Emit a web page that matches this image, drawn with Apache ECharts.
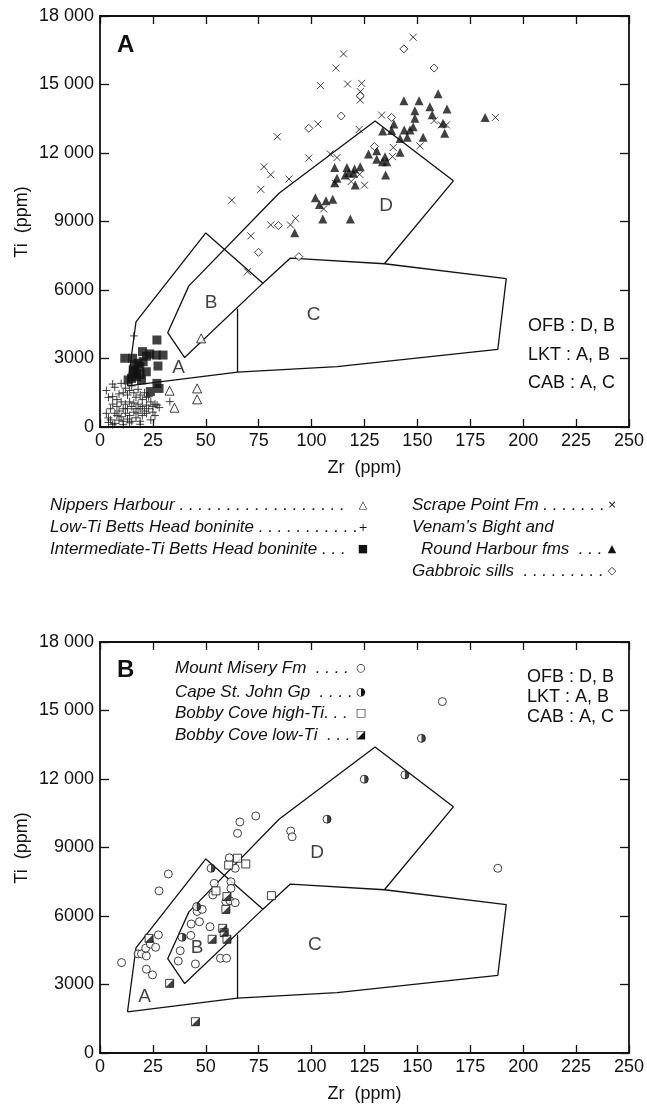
<!DOCTYPE html>
<html>
<head>
<meta charset="utf-8">
<script src="https://cdn.jsdelivr.net/npm/echarts@6/dist/echarts.min.js"></script>
<style>
  html, body { margin: 0; padding: 0; background: #fff; }
  #main { width: 647px; height: 1110px; }
</style>
</head>
<body>
<div id="main"></div>
<script>
/**
 * DATA  (Zr ppm, Ti ppm)
 */
// panel A
var nippersA = [[47.8, 3880], [32.9, 1590], [45.9, 1690], [45.9, 1210], [35.2, 845]];
var lowTiA = [
    [3, 1600], [6, 1880], [7, 1740], [10, 1910], [4, 1300], [6, 1330], [8, 1200], [9, 1450], [11, 1500],
    [12, 1700], [13, 1400], [14, 1600], [15, 1800], [16, 1500], [17, 1300], [18, 1650], [19, 1400],
    [20, 1200], [21, 1500], [22, 1300], [23, 1330], [22, 960], [24, 1100], [25, 900], [26, 1000],
    [27, 960], [24, 310], [33, 1110], [16, 3990], [3, 600], [4, 400], [5, 310], [7, 160], [5, 800],
    [6, 1000], [7, 600], [8, 900], [8, 500], [9, 300], [9, 700], [10, 1100], [10, 450], [11, 800],
    [11, 250], [12, 600], [12, 1000], [13, 350], [13, 800], [14, 500], [14, 1100], [15, 250], [15, 900],
    [16, 650], [16, 1050], [17, 400], [17, 800], [18, 1000], [18, 600], [19, 250], [19, 800], [20, 500],
    [20, 900], [21, 700], [22, 600], [23, 800], [25, 650], [26, 500], [4, 200], [6, 100], [11, 100],
    [14, 180], [19, 120], [28, 850]
];
var interTiA = [
    [26.9, 3810], [11.7, 3010], [15.4, 3010], [20.1, 3300], [23.5, 3200], [26.6, 3150], [29.8, 3150],
    [27.4, 2670], [16.4, 2720], [18.8, 2640], [21.9, 2420], [14.9, 2130], [17.2, 2200], [19.6, 2060],
    [26.9, 1910], [27.9, 1690], [23.8, 1550], [15.7, 2500], [18, 2790], [13.3, 2060], [20.4, 2860],
    [17.2, 2350], [22, 3100], [16, 2400], [19, 2300]
];
var scrapeA = [
    [62.3, 9930], [76, 10410], [77.5, 11400], [80.7, 11050], [83.8, 12710], [89.3, 10860], [98.7, 11780],
    [103, 13270], [104.2, 14950], [80.7, 8850], [90, 8850], [92.4, 9140], [105.7, 9550], [148, 17070],
    [115.1, 16340], [111.5, 15720], [117, 15020], [123.7, 15050], [123, 14690], [123, 14320],
    [133.1, 13660], [122.5, 13030], [108.8, 11960], [112, 11800], [122.7, 11070], [125, 10590],
    [118.7, 10750], [111.2, 10670], [138.6, 12240], [138.2, 11840], [151.2, 12310], [157.9, 13420],
    [161.3, 13230], [163.7, 13230], [186.9, 13560], [71.3, 8370], [69.7, 6800]
];
var venamA = [
    [143.6, 14290], [150.8, 14290], [159.8, 14590], [164, 13930], [155.9, 14030], [157, 13670],
    [148.8, 13850], [148.8, 13520], [148, 13150], [138.9, 13270], [133.6, 12960], [137.8, 12980],
    [143.8, 13010], [146.5, 13010], [141.8, 12640], [145.2, 12690], [152.7, 12690], [162.9, 12860],
    [162.1, 13300], [141.8, 12030], [126.9, 11960], [130.8, 12100], [130.8, 11730], [133.5, 11620],
    [135.5, 11620], [134.7, 11840], [135, 11040], [110.9, 11370], [116.7, 11370], [120.3, 11300],
    [123, 11400], [117.5, 11140], [119.8, 11110], [115.9, 11040], [112, 10890], [120.6, 10600],
    [110.9, 10700], [101.8, 10040], [103.7, 9750], [106.8, 9910], [110, 9970], [118.3, 9110],
    [105.3, 9110], [182, 13560], [92, 8510]
];
var gabbroA = [
    [143.6, 16560], [157.9, 15720], [123, 14500], [114, 13620], [98.7, 13080], [137.8, 13560],
    [129.7, 12280], [84.3, 8820], [74.9, 7650], [94, 7460]
];

// panel B
var miseryB = [
    [10.2, 3960], [18, 4340], [19.6, 4340], [21.9, 4250], [21.6, 4590], [23.8, 4770], [26.3, 4630],
    [27.6, 5170], [21.9, 3670], [24.8, 3420], [27.9, 7100], [32.3, 7840], [37.9, 4480], [37, 4030],
    [43.1, 5650], [42.9, 5150], [47, 5750], [45.9, 6200], [48.3, 6290], [45.1, 3900], [52, 5530],
    [54, 7430], [53.3, 6920], [56.9, 4150], [59.8, 4150], [61.1, 8550], [63.9, 8090], [61.9, 7500],
    [61.9, 7210], [59.5, 6630], [61.4, 6670], [63.9, 6580], [65, 9620], [66.1, 10120], [73.6, 10380],
    [90.1, 9720], [90.8, 9470], [161.8, 15390], [188, 8090]
];
var capeB = [[151.9, 13780], [124.9, 11990], [144.1, 12180], [107.3, 10240], [52.5, 8090], [45.7, 6410], [38.8, 5070]];
var bobbyHighB = [[60.8, 8230], [65, 8530], [68.9, 8280], [54.8, 7100], [81, 6890]];
var bobbyLowB = [
    [23.2, 5020], [32.9, 3050], [45.1, 1370], [53, 4980], [58, 5460], [58.7, 5270], [60, 4980],
    [59.5, 6290], [60, 6850]
];

// discrimination field boundaries (same on both panels)
var fieldOuter = [[13, 1800], [17, 4600], [50, 8500], [77, 6300]];
var fieldMain = [
    [13, 1800], [65, 2400], [112, 2640], [188, 3400], [192, 6500], [134.4, 7150], [90, 7400],
    [77, 6300], [40, 3040], [32, 4130], [42, 6180], [84.6, 10240], [130, 13400], [167, 10780], [134.4, 7150]
];
var fieldDivide = [[65, 2400], [65, 5180]];
var fieldNames = ['A', 'B', 'C', 'D'];
var fieldPosA = [[37.1, 2580], [52.5, 5420], [101, 4900], [135.2, 9680]];
var fieldPosB = [[21.1, 2470], [45.9, 4590], [101.5, 4730], [102.6, 8770]];

var xTicks = [0, 250, 25];
var yTicks = [0, 18000, 3000];

/**
 * CHART
 */
var FONT = '"Liberation Sans", Arial, Helvetica, sans-serif';
var INK = '#111';

function fmtTi(v) {
    var s = String(v);
    return v >= 10000 ? s.slice(0, s.length - 3) + ' ' + s.slice(-3) : s;
}

function xAxis(gi, pos, showLabel) {
    return {
        type: 'value', gridIndex: gi, position: pos,
        min: xTicks[0], max: xTicks[1], interval: xTicks[2],
        axisLine: {show: true, onZero: false, lineStyle: {color: INK, width: 1.8}},
        axisTick: {show: true, inside: true, length: 8, lineStyle: {color: INK, width: 1.3}},
        axisLabel: {show: showLabel, color: INK, fontSize: 18, fontFamily: FONT, margin: 5},
        splitLine: {show: false},
        name: showLabel ? 'Zr  (ppm)' : '',
        nameLocation: 'middle', nameGap: 32,
        nameTextStyle: {color: INK, fontSize: 18, fontFamily: FONT}
    };
}

function yAxis(gi, pos, showLabel) {
    return {
        type: 'value', gridIndex: gi, position: pos,
        min: yTicks[0], max: yTicks[1], interval: yTicks[2],
        axisLine: {show: true, onZero: false, lineStyle: {color: INK, width: 1.8}},
        axisTick: {show: true, inside: true, length: 9, lineStyle: {color: INK, width: 1.3}},
        axisLabel: {show: showLabel, color: INK, fontSize: 18, fontFamily: FONT, margin: 6, formatter: fmtTi},
        splitLine: {show: false}
    };
}

var openStyle = {color: '#fff', borderColor: INK, borderWidth: 1};
var lineSym = {color: 'rgba(0,0,0,0)', borderColor: INK, borderWidth: 1};
var fillStyle = {color: INK};

function pts(panel, data, symbol, size, style, extra) {
    var s = {
        type: 'scatter', xAxisIndex: panel * 2, yAxisIndex: panel * 2,
        data: data, symbol: symbol, symbolSize: size, itemStyle: style,
        silent: true, z: 3
    };
    for (var k in extra || {}) s[k] = extra[k];
    return s;
}

function boundaries(panel) {
    return [fieldOuter, fieldMain, fieldDivide].map(function (d) {
        return {
            type: 'line', xAxisIndex: panel * 2, yAxisIndex: panel * 2, data: d,
            symbol: 'none', silent: true, z: 2,
            lineStyle: {color: INK, width: 1.3}
        };
    });
}

function fieldLabels(panel, pos) {
    return {
        type: 'scatter', xAxisIndex: panel * 2, yAxisIndex: panel * 2, silent: true, z: 4,
        symbolSize: 1, itemStyle: {color: 'rgba(0,0,0,0)'},
        data: fieldNames.map(function (n, i) { return {name: n, value: pos[i]}; }),
        label: {show: true, position: 'inside', formatter: '{b}', color: INK, fontSize: 19, fontFamily: FONT}
    };
}

var PLUS = 'path://M0,5L10,5M5,0L5,10';
var CROSS = 'path://M0,0L10,10M10,0L0,10';
var HALF_DISC = 'path://M0,0A5,5 0 0,1 0,10Z';
var HALF_SQ = 'path://M10,0L10,10L0,10Z';

var series = []
    .concat(boundaries(0), boundaries(1))
    .concat([
        pts(0, lowTiA, PLUS, 8, lineSym),
        pts(0, interTiA, 'rect', 9, fillStyle),
        pts(0, nippersA, 'triangle', 9, openStyle),
        pts(0, scrapeA, CROSS, 7, lineSym),
        pts(0, venamA, 'triangle', 9, fillStyle),
        pts(0, gabbroA, 'diamond', 8, openStyle),
        pts(1, miseryB, 'circle', 8, openStyle),
        pts(1, capeB, 'circle', 8, openStyle),
        pts(1, capeB, HALF_DISC, [4, 8], fillStyle, {symbolOffset: [2, 0], z: 4}),
        pts(1, bobbyHighB, 'rect', 8, openStyle),
        pts(1, bobbyLowB, 'rect', 8, openStyle),
        pts(1, bobbyLowB, HALF_SQ, 8, fillStyle, {z: 4}),
        fieldLabels(0, fieldPosA),
        fieldLabels(1, fieldPosB)
    ]);

// legend rows, axis titles and notes (text only)
function txt(x, y, s, font, align, rot) {
    return {
        type: 'text', x: x, y: y, rotation: rot || 0, silent: true,
        style: {text: s, font: font, fill: INK, textAlign: align || 'left', textVerticalAlign: 'middle',
                align: align || 'left', verticalAlign: 'middle'}
    };
}
var ITAL = 'italic 17px ' + FONT;
var NORM = '18px ' + FONT;
var SYM = '11px "DejaVu Sans"';

var graphic = [
    txt(117, 45, 'A', 'bold 24px ' + FONT),
    txt(117, 670, 'B', 'bold 24px ' + FONT),
    txt(22, 222, 'Ti  (ppm)', NORM, 'center', Math.PI / 2),
    txt(22, 848, 'Ti  (ppm)', NORM, 'center', Math.PI / 2),
    // panel A legend
    txt(50, 505, 'Nippers Harbour . . . . . . . . . . . . . . . . . .', ITAL),
    txt(50, 527, 'Low-Ti Betts Head boninite . . . . . . . . . . .', ITAL),
    txt(50, 549, 'Intermediate-Ti Betts Head boninite . . .', ITAL),
    txt(363, 505, '\u25B3', SYM, 'center'),
    txt(363, 528, '+', SYM, 'center'),
    txt(363, 549, '\u25A0', SYM, 'center'),
    txt(412, 505, 'Scrape Point Fm . . . . . . .', ITAL),
    txt(412, 527, 'Venam\u2019s Bight and', ITAL),
    txt(421, 549, 'Round Harbour fms  . . .', ITAL),
    txt(412, 571, 'Gabbroic sills  . . . . . . . . .', ITAL),
    txt(612, 505, '\u00D7', SYM, 'center'),
    txt(612, 549, '\u25B2', SYM, 'center'),
    txt(612, 571, '\u25C7', SYM, 'center'),
    // panel B legend
    txt(175, 668, 'Mount Misery Fm  . . . .', ITAL),
    txt(175, 692, 'Cape St. John Gp  . . . .', ITAL),
    txt(175, 713, 'Bobby Cove high-Ti. . .', ITAL),
    txt(175, 735, 'Bobby Cove low-Ti  . . .', ITAL),
    txt(361, 668, '\u25CB', SYM, 'center'),
    txt(361, 692, '\u25D1', SYM, 'center'),
    txt(361, 713, '\u25A1', SYM, 'center'),
    txt(361, 735, '\u25EA', SYM, 'center'),
    // magma-type notes
    txt(528, 326, 'OFB : D, B', NORM),
    txt(528, 355, 'LKT : A, B', NORM),
    txt(528, 383, 'CAB : A, C', NORM),
    txt(527, 677, 'OFB : D, B', NORM),
    txt(527, 697, 'LKT : A, B', NORM),
    txt(527, 717, 'CAB : A, C', NORM)
];

var chart = echarts.init(document.getElementById('main'), null, {renderer: 'canvas'});
chart.setOption({
    animation: false,
    backgroundColor: '#fff',
    textStyle: {fontFamily: FONT},
    grid: [
        {left: 100, top: 16, width: 532, height: 411},
        {left: 100, top: 642, width: 532, height: 411}
    ],
    xAxis: [xAxis(0, 'bottom', true), xAxis(0, 'top', false), xAxis(1, 'bottom', true), xAxis(1, 'top', false)],
    yAxis: [yAxis(0, 'left', true), yAxis(0, 'right', false), yAxis(1, 'left', true), yAxis(1, 'right', false)],
    series: series,
    graphic: graphic
});
</script>
</body>
</html>
